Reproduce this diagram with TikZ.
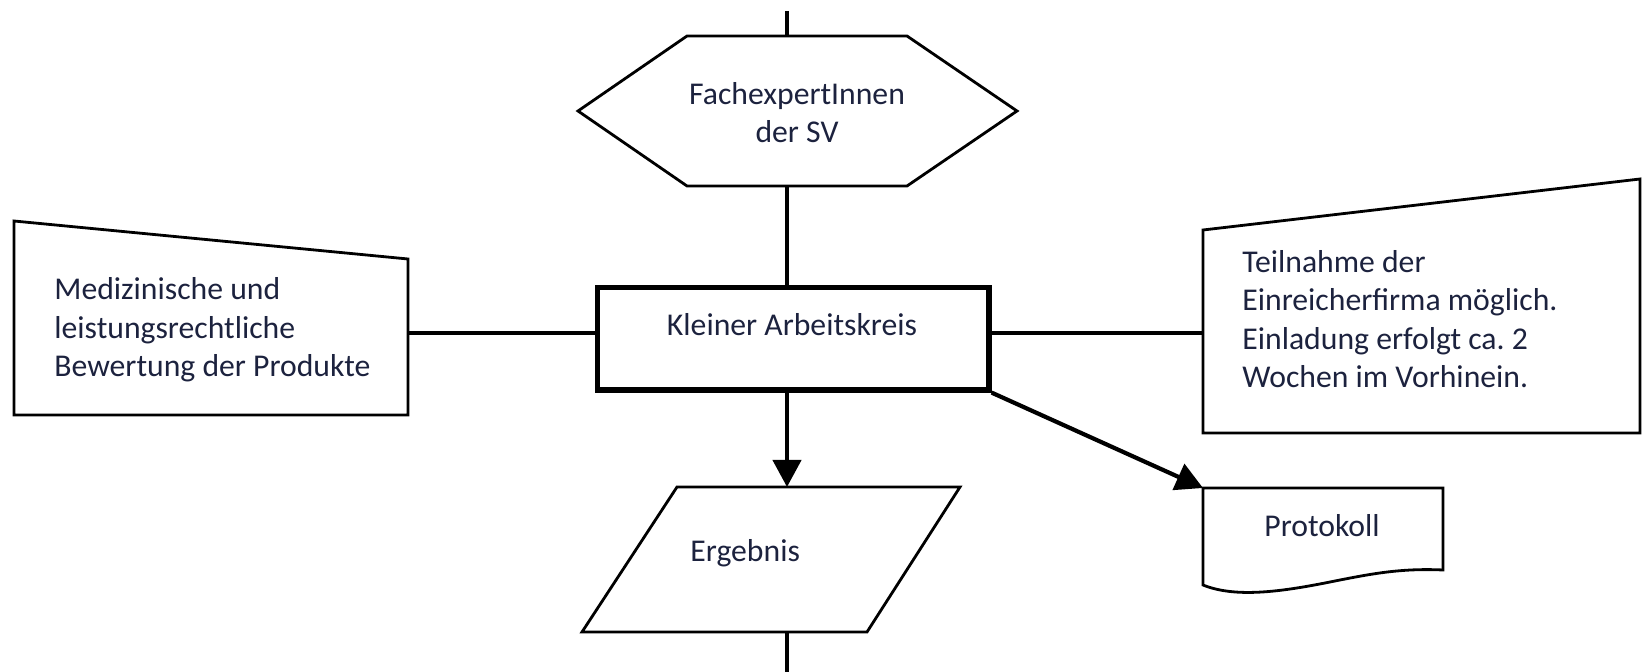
\documentclass[tikz,border=0pt]{standalone}
\usepackage{fontspec}
\setmainfont{Carlito}
\usetikzlibrary{arrows.meta,calc}
\definecolor{txt}{RGB}{28,34,62}

\begin{document}
\frenchspacing
\begin{tikzpicture}[x=0.5pt,y=-0.5pt,
  shapeline/.style={draw=black,line width=1.4pt,line join=miter},
  conn/.style={draw=black,line width=2.1pt},
  arr/.style={conn,-{Triangle[width=14pt,length=13.5pt]}},
  lbl/.style={text=txt,font=\fontsize{15.85}{19.25}\selectfont,inner sep=0pt},
  procbox/.style={draw=black,line width=2.6pt,minimum width=195.75pt,minimum height=51.25pt,inner sep=0pt},
]
\useasboundingbox (0,0) rectangle (1642,672);

% attachment points on the outlines
\coordinate (topend) at (787,11);
\coordinate (hexN) at (787,36);
\coordinate (hexS) at (787,186);
\coordinate (medE) at (408,333);
\coordinate (infoW) at (1203,333);
\coordinate (ergN) at (787,487);
\coordinate (ergS) at (787,632);
\coordinate (botend) at (787,672);
\coordinate (protNW) at (1203,488);

% hexagon: FachexpertInnen (base anchor = last line)
\draw[shapeline] (578,111) -- (687,36) -- (907,36) -- (1017,111) -- (907,186) -- (687,186) -- cycle;
\node[lbl,align=center,anchor=base] (fach) at (797,143) {FachexpertInnen\\der SV};

% manual input: Medizinische ...
\draw[shapeline] (14,221) -- (408,259) -- (408,415) -- (14,415) -- cycle;
\node[lbl,align=left,anchor=base west] (med) at (54,377)
  {Medizinische und\\leistungsrechtliche\\Bewertung der Produkte};

% process: Kleiner Arbeitskreis
\node[procbox] (kak) at (793.25,338.75) {};
\node[lbl,anchor=base] (kaktext) at (792,336) {Kleiner Arbeitskreis};

% manual input: Teilnahme ...
\draw[shapeline] (1203,230) -- (1640,179) -- (1640,433) -- (1203,433) -- cycle;
\node[lbl,align=left,anchor=base west] (info) at (1242,388)
  {Teilnahme der\\Einreicherfirma möglich.\\Einladung erfolgt ca. 2\\Wochen im Vorhinein.};

% data: Ergebnis
\draw[shapeline] (677,487) -- (960,487) -- (867,632) -- (582,632) -- cycle;
\node[lbl,anchor=base west] (erg) at (690,562) {Ergebnis};

% document: Protokoll
\draw[shapeline] (1203,488) -- (1443,488) -- (1443,570)
  .. controls (1400,568) and (1370,574) .. (1330,582)
  .. controls (1280,592) and (1235,598) .. (1203,585) -- cycle;
\node[lbl,anchor=base] (prot) at (1322,537) {Protokoll};

% connectors
\draw[conn] (topend) -- (hexN);
\draw[conn] (hexS) -- (kak.north -| hexS);
\draw[conn] (medE) -- (kak.west |- medE);
\draw[conn] (kak.east |- infoW) -- (infoW);
\draw[arr] (kak.south -| ergN) -- (ergN);
\draw[arr] (kak.south east) -- (protNW);
\draw[conn] (ergS) -- (botend);
\end{tikzpicture}
\end{document}
